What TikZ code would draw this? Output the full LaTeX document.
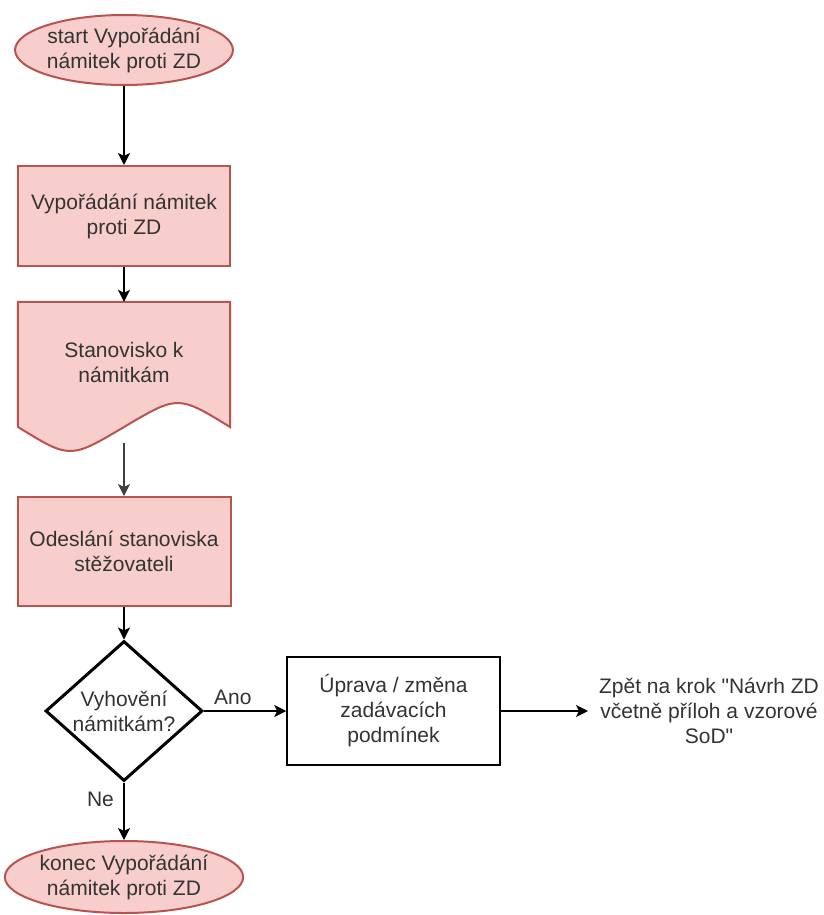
\documentclass[tikz,border=0pt]{standalone}
\usepackage{fontspec}
\setmainfont{Liberation Sans}
\usetikzlibrary{arrows.meta,shapes.geometric}
\definecolor{pinkfill}{HTML}{F8CECC}
\definecolor{pinkline}{HTML}{B85450}
\definecolor{txt}{HTML}{333333}
\tikzset{
  lbl/.style={font=\fontsize{21}{25}\selectfont, text=txt, align=center},
  term/.style={ellipse, draw=pinkline, fill=pinkfill, line width=2pt, lbl, inner sep=0pt},
  proc/.style={rectangle, draw=pinkline, fill=pinkfill, line width=2pt, lbl, inner sep=0pt},
  wbox/.style={rectangle, draw=black, fill=white, line width=1.5pt, lbl, inner sep=0pt},
  dec/.style={diamond, draw=black, fill=white, line width=3pt, lbl, inner sep=0pt, aspect=1.12},
  conn/.style={line width=1.5pt, -{Stealth[length=12pt,width=12pt,inset=3pt]}},
}
\begin{document}
\begin{tikzpicture}[x=1pt,y=-1pt]
\useasboundingbox (0,0) rectangle (823,915);
% nodes
\node[term, minimum width=214pt, minimum height=70pt] (start) at (124,50) {start Vypořádání\\námitek proti ZD};
\node[proc, minimum width=212pt, minimum height=100pt] (p1) at (124,216) {Vypořádání námitek\\proti ZD};
% document shape
\node[minimum width=212pt, minimum height=141pt, inner sep=0pt] (doc) at (124,372.5) {};
\draw[draw=pinkline, fill=pinkfill, line width=2pt]
  (doc.north west) -- (doc.north east) -- (230,427)
  .. controls (178,395) .. (124,427)
  .. controls (70,459) .. (18,427) -- cycle;
\node[lbl] at (124,362) {Stanovisko k\\námitkám};
\node[proc, minimum width=213pt, minimum height=109pt] (p3) at (124,551.5) {Odeslání stanoviska\\stěžovateli};
\node[dec, minimum width=157pt, minimum height=140pt] (d) at (124,711) {};
\node[lbl] at (124,711) {Vyhovění\\námitkám?};
\node[wbox, minimum width=213pt, minimum height=108pt] (w) at (393.5,711) {Úprava / změna\\zadávacích\\podmínek};
\node[lbl, inner sep=0pt] (back) at (709,711) {Zpět na krok \textquotedbl Návrh ZD\\včetně příloh a vzorové\\SoD\textquotedbl};
\coordinate (backin) at (588,711);
\node[term, minimum width=230pt, minimum height=72pt] (end) at (124,877) {konec Vypořádání\\námitek proti ZD};
% connectors
\draw[conn] (start) -- (p1);
\draw[conn] (p1) -- (doc.north);
\draw[conn, draw=black!75] (doc.south) -- (p3);
\draw[conn] (p3) -- (d.north);
\draw[conn] (d.east) -- node[lbl, above=2pt, pos=0.35] {Ano} (w.west);
\draw[conn] (w.east) -- (backin);
\draw[conn] (d.south) -- node[lbl, left=6pt, pos=0.3] {Ne} (end.north);
\end{tikzpicture}
\end{document}
